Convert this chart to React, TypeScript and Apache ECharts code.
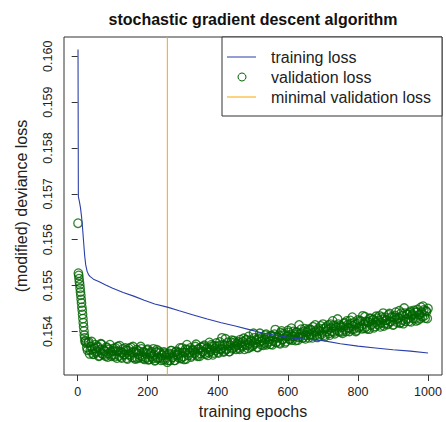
import React, { useEffect, useRef } from "react";
import * as echarts from "echarts";

const chartTitle = "stochastic gradient descent algorithm";
const xAxisName = "training epochs";
const yAxisName = "(modified) deviance loss";
const xTicks = [0, 200, 400, 600, 800, 1000];
const yTicks = [0.154, 0.155, 0.156, 0.157, 0.158, 0.159, 0.16];
const legendLabels = ["training loss", "validation loss", "minimal validation loss"];

const X_MIN = -39;
const X_MAX = 1040;
const Y_MIN = 0.15305;
const Y_MAX = 0.16042;

const trainingEpochs = [1, 2, 5, 8, 11, 14, 17, 20, 23, 27, 31, 35, 45, 60, 80, 100, 130, 160, 190, 220, 256, 290, 330, 370, 410, 450, 490, 530, 570, 610, 650, 700, 750, 800, 850, 900, 950, 1000];
const trainingLoss = [0.16015, 0.15694, 0.15683, 0.1567, 0.15651, 0.15625, 0.15595, 0.15565, 0.15545, 0.15531, 0.15524, 0.1552, 0.15514, 0.15509, 0.15501, 0.15494, 0.15485, 0.15477, 0.15468, 0.1546, 0.15453, 0.15445, 0.15436, 0.15427, 0.15419, 0.15412, 0.15404, 0.15396, 0.15391, 0.15386, 0.15383, 0.1538, 0.15373, 0.15368, 0.15364, 0.1536, 0.15357, 0.15353];

// validation loss, epochs 1..22 (one per epoch)
const validationEarly = [0.15636, 0.15527, 0.15522, 0.15515, 0.15508, 0.15502, 0.15494, 0.15486, 0.15479, 0.1547, 0.15462, 0.15453, 0.15446, 0.15437, 0.15428, 0.15419, 0.1541, 0.15401, 0.15392, 0.15386, 0.15378, 0.1538];
// validation loss, epochs 24, 28, ..., 1000
const validationA = [
  0.15375, 0.15359, 0.15377, 0.15359, 0.15378, 0.1535, 0.15363, 0.15353, 0.15368, 0.15346, 0.1536, 0.15372, 0.1535, 0.15357, 0.15346, 0.15364, 0.15352, 0.15371, 0.15346, 0.15358,
  0.15349, 0.15364, 0.15342, 0.15357, 0.15369, 0.15344, 0.15354, 0.15349, 0.15364, 0.15342, 0.15358, 0.1535, 0.15365, 0.15343, 0.15355, 0.1534, 0.1536, 0.15351, 0.15343, 0.15367, 0.15345, 0.15356, 0.15339, 0.15351, 0.15361, 0.15339, 0.15353, 0.15345, 0.15362, 0.15336, 0.15355, 0.15341, 0.15357, 0.15342, 0.15349, 0.15338, 0.15352, 0.15343, 0.15333,
  0.1535, 0.15337, 0.15358, 0.15344, 0.15337, 0.15355, 0.1535, 0.15343, 0.15364, 0.15342, 0.15354, 0.15339, 0.15361, 0.15371, 0.15348, 0.15355, 0.15344, 0.1536, 0.15354, 0.15367, 0.15349, 0.15361, 0.15346, 0.15365, 0.15356,
  0.15368, 0.15353, 0.15362, 0.15348, 0.15376, 0.15357, 0.15368, 0.15353, 0.15363, 0.15375, 0.15355, 0.15369, 0.15361, 0.15386, 0.15355, 0.1537, 0.1536, 0.15376, 0.15356, 0.1537, 0.15381, 0.15364, 0.15376, 0.15361, 0.1537,
  0.15364, 0.15382, 0.1537, 0.15378, 0.15361, 0.15381, 0.1537, 0.15389, 0.15366, 0.15378, 0.1537, 0.15386, 0.15376, 0.15366, 0.15383, 0.15396, 0.15371, 0.15381, 0.15375, 0.15392, 0.15371, 0.15388, 0.15379, 0.15391, 0.15371,
  0.15389, 0.15404, 0.15377, 0.15388, 0.15375, 0.15397, 0.15382, 0.15395, 0.15375, 0.15389, 0.15402, 0.15383, 0.15393, 0.15381, 0.154, 0.15389, 0.15398, 0.15381, 0.15414, 0.15388, 0.15396, 0.15386, 0.15406, 0.15392, 0.15401,
  0.15386, 0.15405, 0.15393, 0.1541, 0.15391, 0.154, 0.15387, 0.15407, 0.15401, 0.15394, 0.15416, 0.15392, 0.15407, 0.154, 0.15414, 0.15392, 0.15408, 0.15423, 0.15399, 0.15412, 0.15403, 0.15416, 0.15399, 0.15409, 0.15396,
  0.15417, 0.15404, 0.15423, 0.15409, 0.154, 0.15417, 0.15431, 0.15405, 0.15415, 0.15402, 0.15425, 0.1541, 0.15422, 0.15406, 0.15416, 0.15432, 0.1541, 0.15422, 0.15405, 0.15428, 0.15416, 0.15426, 0.15411, 0.15433, 0.15416,
  0.15424, 0.1541, 0.15431, 0.1544, 0.15417, 0.15425, 0.15415, 0.15436, 0.15422, 0.15432, 0.15414, 0.15431, 0.15442, 0.1542, 0.15429, 0.15418, 0.1544, 0.15425, 0.15451, 0.15422, 0.15437, 0.15429, 0.15441, 0.15421, 0.15437,
  0.15446, 0.15428, 0.15442, 0.15425, 0.15437, 0.15453, 0.15432, 0.15447, 0.15429, 0.15443, 0.1545,
];
// validation loss, epochs 26, 30, ..., 998
const validationB = [
  0.15365, 0.15375, 0.15351, 0.15367, 0.15361, 0.15351, 0.15371, 0.15357, 0.15365, 0.15347, 0.15373, 0.15352, 0.1536, 0.15349, 0.15366, 0.15344, 0.15361, 0.15356, 0.15349,
  0.15363, 0.15345, 0.15357, 0.15367, 0.15347, 0.15355, 0.15342, 0.15362, 0.1535, 0.15359, 0.1534, 0.15363, 0.15347, 0.15354, 0.15367, 0.15343, 0.15355, 0.15341, 0.15357, 0.15348, 0.15362, 0.15341, 0.15354, 0.15343, 0.15359, 0.15338, 0.15351, 0.15356, 0.15341, 0.15349, 0.15337, 0.1536, 0.15343, 0.15353, 0.15337, 0.15348, 0.15355, 0.15338, 0.15349,
  0.15337, 0.15352, 0.15358, 0.15343, 0.15349, 0.15337, 0.15357, 0.15348, 0.15354, 0.15341, 0.15364, 0.15345, 0.15354, 0.1534, 0.1536, 0.15353, 0.15364, 0.15347, 0.15358, 0.15352, 0.15372, 0.15346, 0.15362, 0.15352, 0.15366,
  0.15356, 0.1537, 0.1535, 0.15364, 0.15354, 0.15361, 0.15371, 0.15349, 0.15369, 0.15359, 0.15367, 0.15353, 0.15377, 0.15363, 0.15371, 0.15357, 0.15384, 0.15362, 0.15369, 0.15356, 0.15376, 0.15362, 0.1538, 0.15367, 0.15373,
  0.15377, 0.15361, 0.15375, 0.15367, 0.15385, 0.15371, 0.15382, 0.15363, 0.15375, 0.15381, 0.15367, 0.15396, 0.15373, 0.15382, 0.15365, 0.15388, 0.15377, 0.15386, 0.1537, 0.15383, 0.15394, 0.15375, 0.15383, 0.15372, 0.1539,
  0.15379, 0.15394, 0.15376, 0.15386, 0.15392, 0.15373, 0.15401, 0.15383, 0.15392, 0.15378, 0.15389, 0.15398, 0.15383, 0.15407, 0.15389, 0.15394, 0.1538, 0.15399, 0.15387, 0.15394, 0.15405, 0.15386, 0.154, 0.15384, 0.15398,
  0.15405, 0.15393, 0.15403, 0.15386, 0.15398, 0.15414, 0.15392, 0.15403, 0.1539, 0.15412, 0.15399, 0.15406, 0.15389, 0.1541, 0.15404, 0.15396, 0.15416, 0.154, 0.15413, 0.15395, 0.15408, 0.15427, 0.15401, 0.15413, 0.15399,
  0.1541, 0.15419, 0.154, 0.15414, 0.15407, 0.15424, 0.15404, 0.15412, 0.1542, 0.154, 0.15417, 0.15408, 0.15424, 0.15412, 0.15434, 0.15407, 0.15422, 0.15406, 0.1542, 0.15429, 0.15414, 0.15425, 0.15408, 0.1542, 0.15429,
  0.15414, 0.15434, 0.15419, 0.15426, 0.15412, 0.15431, 0.15424, 0.15417, 0.15439, 0.15421, 0.15431, 0.15415, 0.15435, 0.15426, 0.1543, 0.15445, 0.1542, 0.15434, 0.15417, 0.1544, 0.15427, 0.15438, 0.15422, 0.15444, 0.15434,
  0.15428, 0.15442, 0.15423, 0.15448, 0.15436, 0.15428, 0.15442, 0.15455, 0.15434, 0.15445, 0.15428,
];
const minValidationEpoch = 256;

const BLUE = "#2B3FA8";
const GREEN = "#006400";
const ORANGE = "#FFA500";
const FONT = "'Liberation Sans', Arial, Helvetica, sans-serif";

export default function App() {
  const ref = useRef<HTMLDivElement>(null);
  useEffect(() => {
    if (!ref.current) return;
    const chart = echarts.init(ref.current, null, { renderer: "svg" });
    const trainData = trainingEpochs.map((e, i) => [e, trainingLoss[i]]);
    const valData = [
      ...validationEarly.map((v, i) => [1 + i, v]),
      ...validationA.map((v, i) => [24 + 4 * i, v]),
      ...validationB.map((v, i) => [26 + 4 * i, v]),
    ];
    const gl = 64, gt = 37, gw = 378, gh = 338;
    chart.setOption({
      animation: false,
      backgroundColor: "#ffffff",
      grid: { left: gl, top: gt, width: gw, height: gh, show: true, borderColor: "#333", borderWidth: 1, backgroundColor: "transparent" },
      xAxis: {
        type: "value",
        min: X_MIN,
        max: X_MAX,
        axisLine: { show: false },
        splitLine: { show: false },
        axisTick: { show: true, customValues: xTicks, length: 6, lineStyle: { color: "#333" } },
        axisLabel: { customValues: xTicks, fontSize: 12.5, color: "#222", margin: 10, fontFamily: FONT, formatter: (v: number) => String(v) },
      },
      yAxis: {
        type: "value",
        min: Y_MIN,
        max: Y_MAX,
        axisLine: { show: false },
        splitLine: { show: false },
        axisTick: { show: true, customValues: yTicks, length: 6, lineStyle: { color: "#333" } },
        axisLabel: {
          customValues: yTicks,
          rotate: 90,
          fontSize: 12.5,
          color: "#222",
          margin: 10,
          fontFamily: FONT,
          formatter: (v: number) => v.toFixed(3),
        },
      },
      series: [
        {
          name: legendLabels[2],
          type: "line",
          data: [[minValidationEpoch, Y_MIN], [minValidationEpoch, Y_MAX]],
          showSymbol: false,
          symbol: "none",
          lineStyle: { color: ORANGE, width: 1 },
          z: 1,
        },
        {
          name: legendLabels[1],
          type: "scatter",
          data: valData,
          symbol: "circle",
          symbolSize: 8.5,
          itemStyle: { color: "transparent", borderColor: GREEN, borderWidth: 1.3 },
          z: 2,
        },
        {
          name: legendLabels[0],
          type: "line",
          data: trainData,
          showSymbol: false,
          symbol: "none",
          lineStyle: { color: BLUE, width: 1.1 },
          z: 3,
        },
      ],
      graphic: [
        {
          type: "text",
          x: 253,
          y: 19,
          style: { text: chartTitle, font: `bold 16px ${FONT}`, fill: "#111", align: "center", verticalAlign: "middle" },
        },
        {
          type: "text",
          x: 253,
          y: 411,
          style: { text: xAxisName, font: `16px ${FONT}`, fill: "#222", align: "center", verticalAlign: "middle" },
        },
        {
          type: "text",
          x: 21,
          y: 206,
          rotation: Math.PI / 2,
          style: { text: yAxisName, font: `16px ${FONT}`, fill: "#222", align: "center", verticalAlign: "middle" },
        },
        {
          type: "group",
          z: 100,
          children: [
            { type: "rect", shape: { x: 222, y: 37, width: 220, height: 79 }, style: { fill: "#fff", stroke: "#333", lineWidth: 1 } },
            { type: "line", shape: { x1: 227, y1: 57, x2: 256, y2: 57 }, style: { stroke: BLUE, lineWidth: 1 } },
            { type: "circle", shape: { cx: 242, cy: 77, r: 4 }, style: { fill: "none", stroke: GREEN, lineWidth: 1 } },
            { type: "line", shape: { x1: 227, y1: 97, x2: 256, y2: 97 }, style: { stroke: ORANGE, lineWidth: 1 } },
            { type: "text", x: 271, y: 57, style: { text: legendLabels[0], font: `16px ${FONT}`, fill: "#222", align: "left", verticalAlign: "middle" } },
            { type: "text", x: 271, y: 77, style: { text: legendLabels[1], font: `16px ${FONT}`, fill: "#222", align: "left", verticalAlign: "middle" } },
            { type: "text", x: 271, y: 97, style: { text: legendLabels[2], font: `16px ${FONT}`, fill: "#222", align: "left", verticalAlign: "middle" } },
          ],
        },
      ],
    });
    return () => chart.dispose();
  }, []);
  return <div ref={ref} style={{ position: "fixed", left: 0, top: 0, width: 446, height: 422 }} />;
}
